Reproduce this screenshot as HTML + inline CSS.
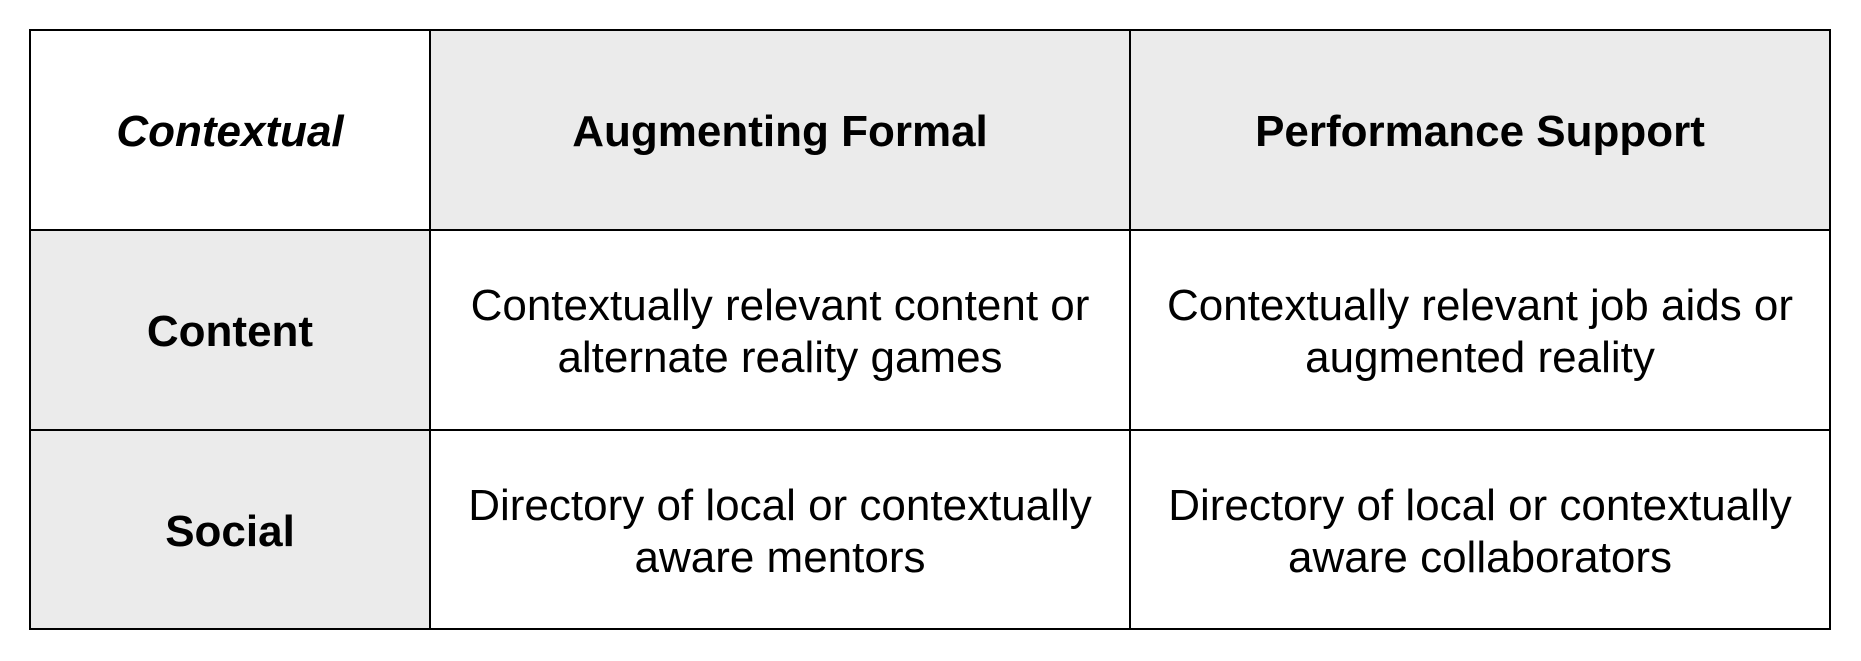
<!DOCTYPE html>
<html><head><style>
html,body{margin:0;padding:0;background:#fff;}
body{width:1861px;height:661px;position:relative;font-family:"Liberation Sans",Arial,sans-serif;}
table{position:absolute;left:29px;top:29px;border-collapse:collapse;table-layout:fixed;}
td{border:2.5px solid #000;text-align:center;vertical-align:middle;font-size:44px;line-height:52px;padding:4px 0 0 0;color:#000;}
.g{background:#ebebeb;}
.b{font-weight:bold;}
</style></head><body>
<table>
<colgroup><col style="width:400px"><col style="width:700px"><col style="width:700px"></colgroup>
<tr style="height:200px"><td class="b" style="font-style:italic">Contextual</td><td class="g b">Augmenting Formal</td><td class="g b">Performance Support</td></tr>
<tr style="height:200px"><td class="g b">Content</td><td>Contextually relevant content or<br>alternate reality games</td><td>Contextually relevant job aids or<br>augmented reality</td></tr>
<tr style="height:199px"><td class="g b">Social</td><td>Directory of local or contextually<br>aware mentors</td><td>Directory of local or contextually<br>aware collaborators</td></tr>
</table>
</body></html>
